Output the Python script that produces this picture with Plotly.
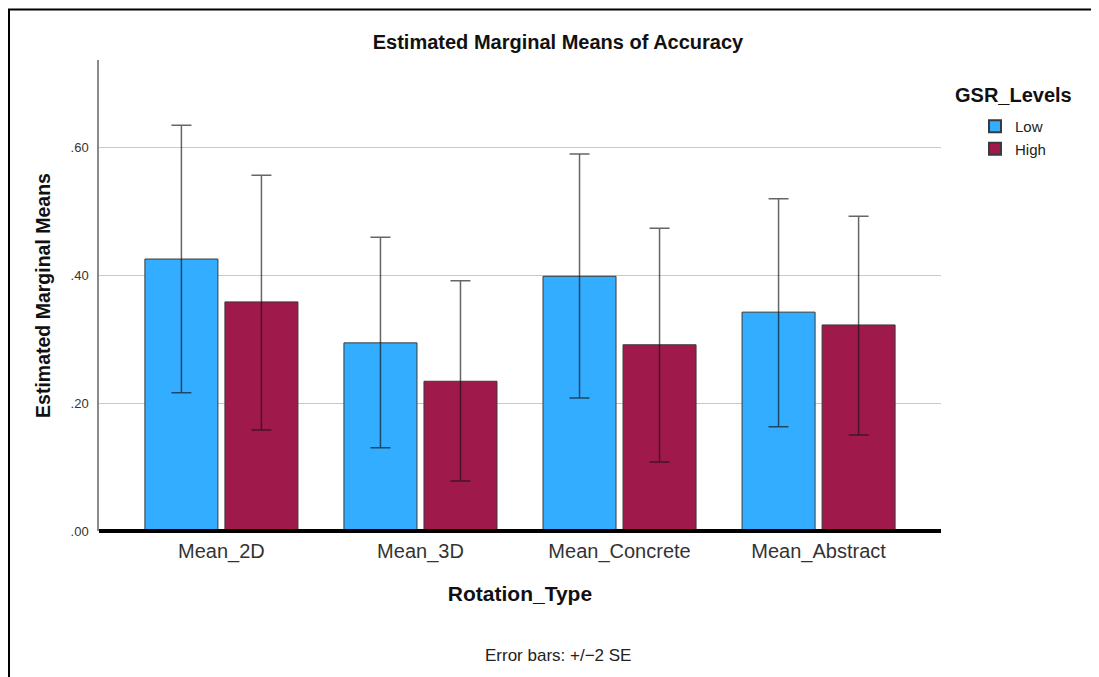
import plotly.graph_objects as go

categories = ["Mean_2D", "Mean_3D", "Mean_Concrete", "Mean_Abstract"]
low_means = [0.425, 0.294, 0.398, 0.342]
low_upper = [0.634, 0.459, 0.589, 0.519]
low_lower = [0.216, 0.130, 0.208, 0.163]
high_means = [0.358, 0.234, 0.291, 0.322]
high_upper = [0.556, 0.391, 0.473, 0.492]
high_lower = [0.158, 0.078, 0.108, 0.150]
y_ticks = [0.0, 0.2, 0.4, 0.6]
y_tick_labels = [".00", ".20", ".40", ".60"]

FONT = "Liberation Sans, Arial, sans-serif"
err_color = "rgba(20,20,20,0.65)"

# page body has an 8px margin; figure is shrunk so that it fills the window
OFF = 8
W, H = 1099 - OFF, 677 - OFF
PL, PR, PT, PB = 99, 941, 60, 531  # plot area in screen pixels
PW, PH = PR - PL, PB - PT


def px(sx):
    return (sx - PL) / PW


def py(sy):
    return (PB - sy) / PH


def make_bar(name, means, upper, lower, color):
    return go.Bar(
        name=name,
        x=categories,
        y=means,
        marker=dict(color=color, line=dict(color="#3a3a3a", width=1)),
        error_y=dict(
            type="data",
            symmetric=False,
            array=[u - m for u, m in zip(upper, means)],
            arrayminus=[m - l for m, l in zip(means, lower)],
            color=err_color,
            thickness=1.5,
            width=10,
        ),
    )


fig = go.Figure()
fig.add_trace(make_bar("Low", low_means, low_upper, low_lower, "#33adff"))
fig.add_trace(make_bar("High", high_means, high_upper, high_lower, "#a0194b"))

fig.update_layout(
    width=W,
    height=H,
    barmode="group",
    bargap=0.196,
    bargroupgap=0.0875,
    paper_bgcolor="white",
    plot_bgcolor="white",
    font=dict(family=FONT, color="#222222"),
    margin=dict(l=PL - OFF, r=W - (PR - OFF), t=PT - OFF, b=H - (PB - OFF), autoexpand=False),
    title=dict(
        text="<b>Estimated Marginal Means of Accuracy</b>",
        x=(558 - OFF) / W,
        xanchor="center",
        y=1 - (42 - OFF) / H,
        yanchor="middle",
        font=dict(size=20, color="#111111", family=FONT),
    ),
    showlegend=True,
    legend=dict(
        x=px(975),
        xanchor="left",
        y=py(110),
        yanchor="top",
        font=dict(size=15, color="#222222"),
        itemsizing="constant",
        itemwidth=30,
        tracegroupgap=0,
        bgcolor="rgba(0,0,0,0)",
    ),
    xaxis=dict(
        type="category",
        range=[-0.615, 3.615],
        showline=False,
        showgrid=False,
        ticks="",
        ticklabelstandoff=6,
        tickfont=dict(size=20, color="#333333", family=FONT),
        title=dict(text="<b>Rotation_Type</b>", font=dict(size=21, color="#111111"), standoff=24),
        zeroline=False,
    ),
    yaxis=dict(
        range=[0, 0.736],
        tickvals=y_ticks,
        ticktext=y_tick_labels,
        showgrid=True,
        gridcolor="#c8c8c8",
        gridwidth=1,
        showline=True,
        linecolor="#8a8a8a",
        linewidth=1.5,
        ticks="",
        ticklabelstandoff=6,
        tickfont=dict(size=13, color="#333333", family=FONT),
        zeroline=False,
        title=dict(text="<b>Estimated Marginal Means</b>", font=dict(size=19.5, color="#111111"), standoff=15),
    ),
)

# thick baseline at zero (paper refs so it is not clipped)
fig.add_shape(type="line", xref="paper", yref="paper", x0=0, x1=1, y0=py(531), y1=py(531),
              line=dict(color="black", width=4), layer="above")

# outer frame (left and top edges visible)
fig.add_shape(type="line", xref="paper", yref="paper",
              x0=px(9), x1=px(9), y0=py(9), y1=py(720),
              line=dict(color="black", width=2))
fig.add_shape(type="line", xref="paper", yref="paper",
              x0=px(8), x1=px(1130), y0=py(9.5), y1=py(9.5),
              line=dict(color="black", width=2))

# legend heading
fig.add_annotation(
    text="<b>GSR_Levels</b>",
    xref="paper", yref="paper",
    x=px(1013), y=py(95),
    xanchor="center", yanchor="middle",
    showarrow=False,
    font=dict(size=20, color="#111111", family=FONT),
)

fig.add_annotation(
    text="Error bars: +/\u22122 SE",
    xref="paper", yref="paper",
    x=px(558), y=py(655),
    xanchor="center", yanchor="middle",
    showarrow=False,
    font=dict(size=17, color="#222222", family=FONT),
)

fig.write_html("out.html")
